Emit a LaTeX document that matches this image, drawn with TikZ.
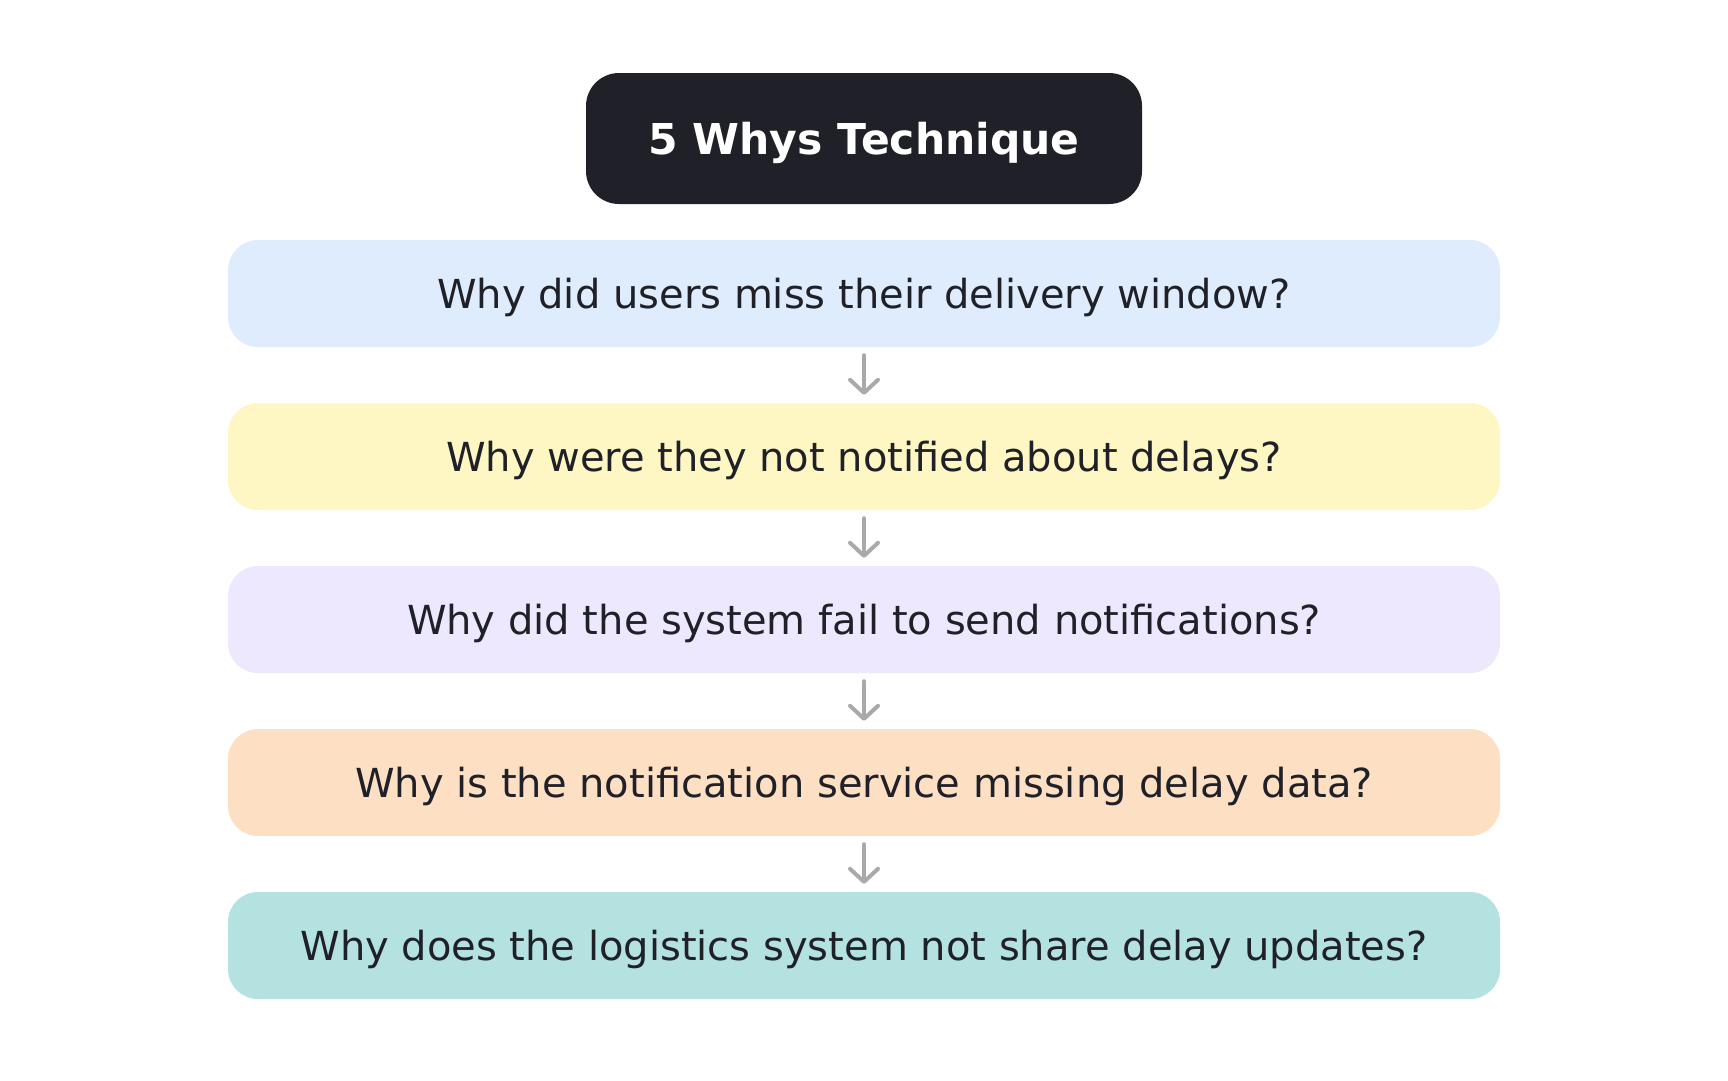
\documentclass[tikz,border=0pt]{standalone}
\usepackage{fontspec}
\setmainfont{DejaVu Sans}
\definecolor{ink}{HTML}{202128}
\definecolor{whyA}{HTML}{DFECFD}
\definecolor{whyB}{HTML}{FEF6C3}
\definecolor{whyC}{HTML}{EDE8FD}
\definecolor{whyD}{HTML}{FDDFC4}
\definecolor{whyE}{HTML}{B4E2E1}
\definecolor{arrowgray}{HTML}{A9A9A9}
\usetikzlibrary{arrows.meta}
\begin{document}
\begin{tikzpicture}[x=1pt,y=-1pt,
	why/.style={rounded corners=30pt,minimum width=1272pt,minimum height=107pt,inner sep=0pt,text height=29pt,text depth=0pt,text=ink,font=\fontsize{40}{44}\selectfont},
	down/.style={draw=arrowgray,line width=4pt,line cap=round,-{Straight Barb[length=13pt,width=28pt,round]},shorten <=8pt,shorten >=8pt}]
		\useasboundingbox(0,0)rectangle(1728,1080);
		\node[fill=ink,rounded corners=33pt,minimum width=556pt,minimum height=131pt,inner sep=0pt,text height=31pt,text depth=0pt,text=white,font=\bfseries\fontsize{42.5}{48}\selectfont](T)at(864,138.5){5 Whys Technique};
		\node[why,fill=whyA](Q1)at(864,293.5){Why did users miss their delivery window?};
		\node[why,fill=whyB](Q2)at(864,456.5){Why were they not notified about delays?};
		\node[why,fill=whyC](Q3)at(864,619.5){Why did the system fail to send notifications?};
		\node[why,fill=whyD](Q4)at(864,782.5){Why is the notification service missing delay data?};
		\node[why,fill=whyE](Q5)at(864,945.5){Why does the logistics system not share delay updates?};
		\foreach\a/\b in{Q1/Q2,Q2/Q3,Q3/Q4,Q4/Q5}{\draw[down](\a)--(\b);}
		\end{tikzpicture}
\end{document}
